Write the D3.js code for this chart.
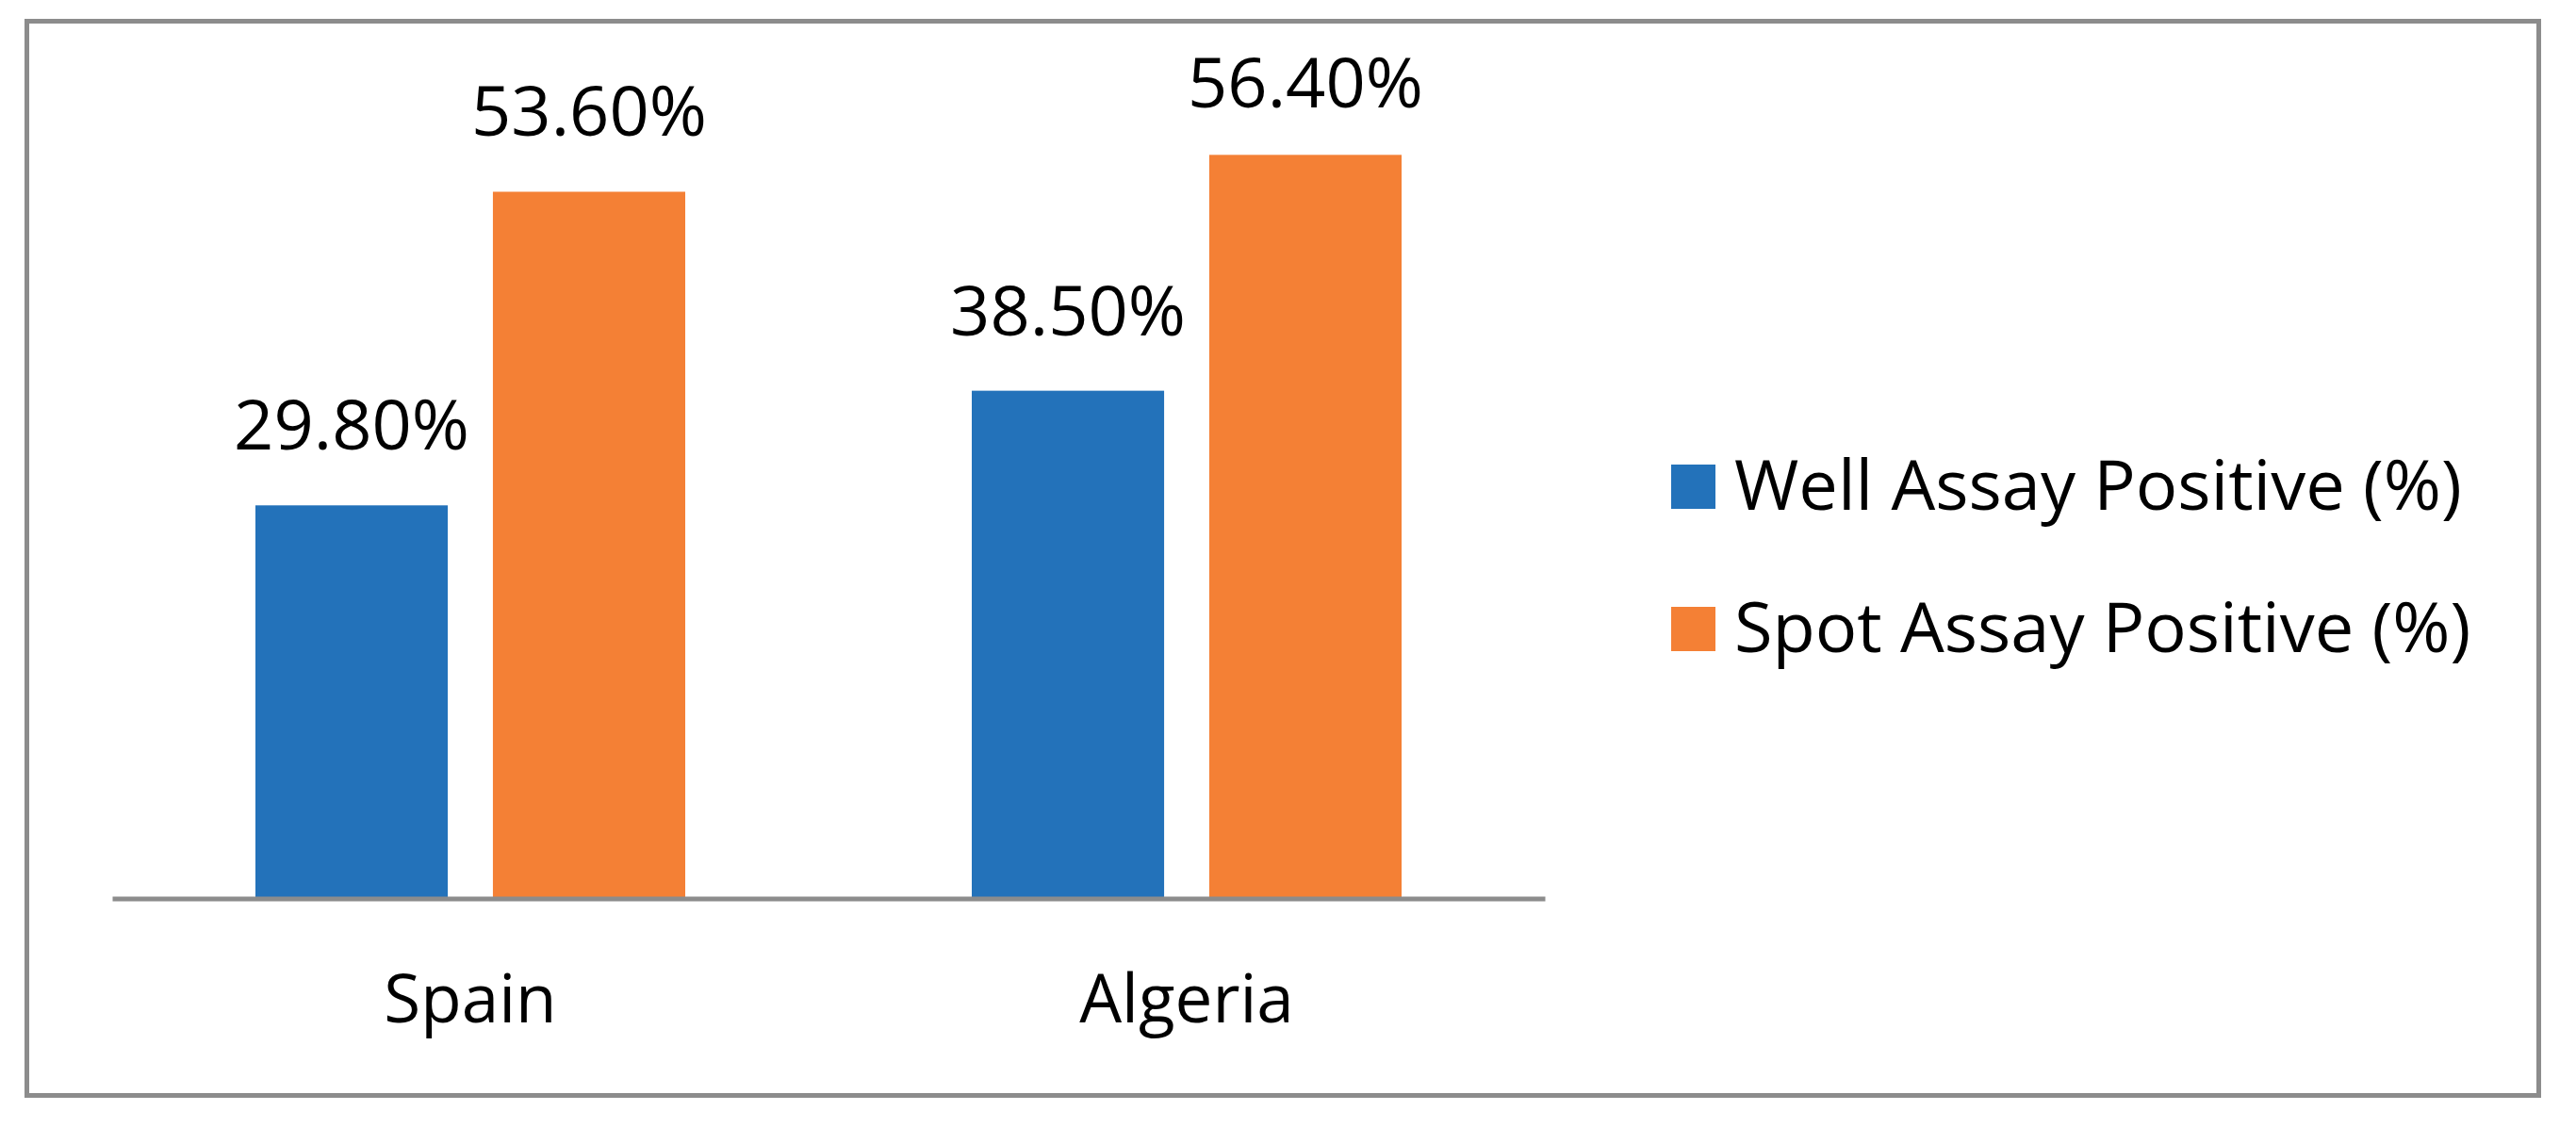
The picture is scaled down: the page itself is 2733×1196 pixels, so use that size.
<!DOCTYPE html>
<html>
<head>
<meta charset="utf-8">
<title>Assay positive</title>
<script src="https://cdn.jsdelivr.net/npm/d3@7"></script>
<style>
body { margin: 0; background: #fff; }
text { font-family: "Open Sans", sans-serif; fill: #000; }
.axis path { stroke: #8c8c8c; stroke-width: 5; }
.axis text { font-size: 71px; }
</style>
</head>
<body>
<script>
// data
var countries = ["Spain", "Algeria"];
var seriesNames = ["Well Assay Positive (%)", "Spot Assay Positive (%)"];
var wellValues = [29.8, 38.5];
var spotValues = [53.6, 56.4];
var colors = ["#2372ba", "#f48035"];

var width = 2733, height = 1196;

var svg = d3.select("body").append("svg")
    .attr("width", width)
    .attr("height", height);

svg.append("rect")
    .attr("x", 28.5).attr("y", 22.5)
    .attr("width", 2665).attr("height", 1140)
    .attr("fill", "#fff")
    .attr("stroke", "#8c8c8c")
    .attr("stroke-width", 5);

var x0 = d3.scaleBand()
    .domain(countries)
    .range([119, 1639])
    .paddingInner(0.4)
    .paddingOuter(0.2);

var x1 = d3.scaleBand()
    .domain(seriesNames)
    .range([0, x0.bandwidth()])
    .paddingInner(0.19);

var y = d3.scaleLinear()
    .domain([0, 60])
    .range([953, 114]);

var rows = countries.map(function(c, i) {
    return {country: c, vals: [wellValues[i], spotValues[i]]};
});

var groups = svg.selectAll("g.group")
    .data(rows)
    .enter().append("g")
    .attr("class", "group")
    .attr("transform", function(d) { return "translate(" + x0(d.country) + ",0)"; });

groups.selectAll("rect")
    .data(function(d) { return d.vals.map(function(v, j) { return {s: seriesNames[j], v: v, j: j}; }); })
    .enter().append("rect")
    .attr("x", function(d) { return x1(d.s); })
    .attr("y", function(d) { return y(d.v); })
    .attr("width", x1.bandwidth())
    .attr("height", function(d) { return y(0) - y(d.v); })
    .attr("fill", function(d) { return colors[d.j]; });

// value labels (kept inside the chart area near the top)
groups.selectAll("text.val")
    .data(function(d) { return d.vals.map(function(v, j) { return {s: seriesNames[j], v: v}; }); })
    .enter().append("text")
    .attr("class", "val")
    .attr("x", function(d) { return x1(d.s) + x1.bandwidth() / 2; })
    .attr("y", function(d) { return Math.max(y(d.v) - 59, 114); })
    .attr("text-anchor", "middle")
    .style("font-size", "74px")
    .text(function(d) { return d.v.toFixed(2) + "%"; });

var axis = svg.append("g")
    .attr("class", "axis")
    .attr("transform", "translate(0,953.5)")
    .call(d3.axisBottom(x0).tickSize(0).tickSizeOuter(0));
axis.selectAll("text")
    .attr("y", 131.5)
    .attr("dy", 0)
    .attr("fill", "#000");

// legend
var legend = svg.selectAll("g.legend")
    .data(seriesNames)
    .enter().append("g")
    .attr("class", "legend")
    .attr("transform", function(d, i) { return "translate(1773," + (493 + i * 151) + ")"; });
legend.append("rect")
    .attr("width", 47).attr("height", 47)
    .attr("fill", function(d, i) { return colors[i]; });
legend.append("text")
    .attr("x", 67)
    .attr("y", 48)
    .style("font-size", "74px")
    .text(function(d) { return d; });
</script>
</body>
</html>
